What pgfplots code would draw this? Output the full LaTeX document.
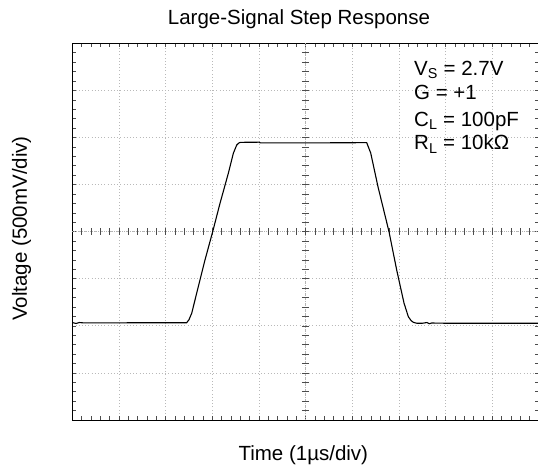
\documentclass[border=0pt]{standalone}
\usepackage{pgfplots}
\pgfplotsset{compat=1.18}
\usepackage{fontspec}
\setmainfont{Liberation Sans}
\newcommand{\bigfont}{\fontsize{20.5}{25}\selectfont}
\begin{document}
\begin{tikzpicture}
\begin{axis}[
  at={(72.3pt,47pt)}, anchor=south west,
  scale only axis, width=466.7pt, height=376.7pt,
  xmin=0, xmax=10, ymin=0, ymax=8,
  xtick={0,...,10}, ytick={0,...,8},
  xticklabels={}, yticklabels={},
  minor x tick num=4, minor y tick num=4,
  tick align=inside, major tick length=4pt, minor tick length=4pt,
  tick style={gray!60!black, line width=0.6pt},
  grid=major,
  major grid style={gray!55, dash pattern=on 0.8pt off 2.4pt, line width=0.8pt},
  axis line style={black, line width=0.9pt},
  title={Large-Signal Step Response},
  every axis title/.style={at={(0.4857,1.0512)}, anchor=base, font=\bigfont},
  xlabel={Time (1µs/div)},
  every axis x label/.style={at={(0.495,-0.1088)}, anchor=base, font=\bigfont},
  ylabel={Voltage (500mV/div)},
  every axis y label/.style={at={(-0.0971,0.5084)}, anchor=base, rotate=90, font=\bigfont},
  clip=false,
]
% centre cross
\draw[gray!60, line width=0.8pt, dash pattern=on 0.8pt off 1.2pt] (axis cs:0,4) -- (axis cs:10,4);
\draw[gray!60, line width=0.8pt, dash pattern=on 0.8pt off 1.2pt] (axis cs:5,0) -- (axis cs:5,8);
\pgfplotsinvokeforeach{1,...,49}{
  \draw[gray!60!black, line width=0.6pt] (axis cs:#1/5,3.93) -- (axis cs:#1/5,4.07);
}
\pgfplotsinvokeforeach{1,...,39}{
  \draw[gray!60!black, line width=0.6pt] (axis cs:4.92,#1/5) -- (axis cs:5.08,#1/5);
}
\addplot[black, line width=1.1pt] coordinates {
(0,2.07) (0.08,2.05) (0.15,2.07) (0.25,2.062) (1,2.064) (2,2.066) (2.451,2.066)
(2.50,2.13) (2.558,2.266) (2.70,2.831) (2.843,3.398) (3.008,3.999) (3.165,4.602)
(3.343,5.239) (3.45,5.664) (3.523,5.84) (3.57,5.885) (3.608,5.897)
(4.0,5.90) (4.03,5.885) (5,5.885) (6.308,5.89)
(6.394,5.67) (6.55,4.954) (6.786,3.999) (6.951,3.185) (7.107,2.485)
(7.2,2.194) (7.26,2.11) (7.307,2.075) (7.38,2.055)
(7.5,2.055) (7.6,2.07) (7.65,2.045) (7.7,2.06) (8,2.055) (10,2.055)
};
\node[anchor=base west, font=\bigfont] at (rel axis cs:0.725,0.9158) {V\textsubscript{S} = 2.7V};
\node[anchor=base west, font=\bigfont] at (rel axis cs:0.725,0.8495) {G = +1};
\node[anchor=base west, font=\bigfont] at (rel axis cs:0.725,0.7786) {C\textsubscript{L} = 100pF};
\node[anchor=base west, font=\bigfont] at (rel axis cs:0.725,0.7168) {R\textsubscript{L} = 10kΩ};
\end{axis}
\pgfresetboundingbox
\useasboundingbox (0,0) rectangle (538pt,467pt);
\end{tikzpicture}
\end{document}
